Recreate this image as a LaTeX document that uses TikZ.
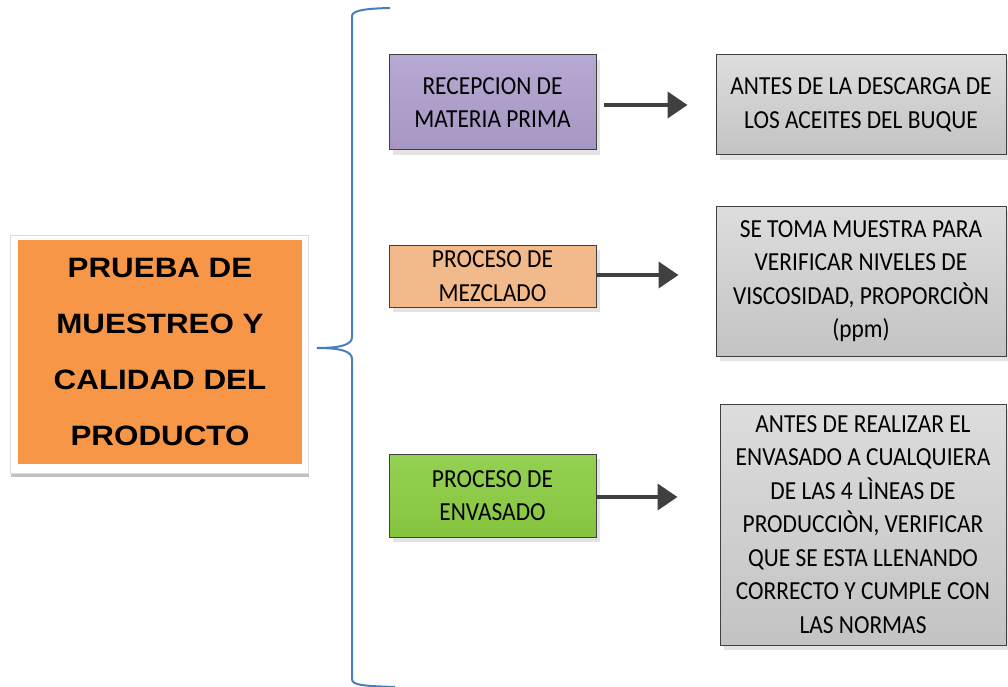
\documentclass[tikz,border=0pt]{standalone}
\usepackage{fontspec}
\setmainfont{Carlito}[FakeStretch=0.9]
\newfontfamily\titlefont{Liberation Sans}[FakeStretch=1.12]
\usetikzlibrary{arrows.meta,shadings}
\definecolor{bracecol}{HTML}{4A7EBB}
\definecolor{mainorange}{HTML}{F79646}
\definecolor{boxedge}{HTML}{404040}
\definecolor{shadowcol}{HTML}{E3E3E3}
\tikzset{
  stepbox/.style={draw=boxedge, line width=1pt, align=center, inner sep=0pt,
    font=\fontsize{26}{33.5}\selectfont,
    drop shadow={shadow xshift=4pt, shadow yshift=-5pt, fill=shadowcol, opacity=1}},
  purplebox/.style={stepbox, top color=HTML-B6A9D2, bottom color=HTML-A796C3},
  lorangebox/.style={stepbox, fill=HTML-F2B98B},
  greenbox/.style={stepbox, top color=HTML-95D152, bottom color=HTML-85C43F},
  graybox/.style={stepbox, top color=HTML-DDDDDD, bottom color=HTML-C3C3C3},
  arr/.style={draw=HTML-404040, line width=4pt, -{Triangle[length=20pt,width=26pt]}},
}
\colorlet{HTML-B6A9D2}{white}
\definecolor{HTML-B6A9D2}{HTML}{B6A9D2}
\definecolor{HTML-A796C3}{HTML}{A796C3}
\definecolor{HTML-F2B98B}{HTML}{F2B98B}
\definecolor{HTML-95D152}{HTML}{95D152}
\definecolor{HTML-85C43F}{HTML}{85C43F}
\definecolor{HTML-DDDDDD}{HTML}{DDDDDD}
\definecolor{HTML-C3C3C3}{HTML}{C3C3C3}
\definecolor{HTML-404040}{HTML}{404040}
\usetikzlibrary{shadows}
\begin{document}
\begin{tikzpicture}[x=1pt,y=-1pt]
\useasboundingbox (0,0) rectangle (1008,687);
\fill[white] (0,0) rectangle (1008,687);
% main box
\fill[HTML-DDDDDD!70!gray] (11,472) rectangle (309,476.5);
\node[draw=HTML-DDDDDD, fill=white, minimum width=298pt, minimum height=238pt, inner sep=0pt] (mainframe) at (159.5,354) {};
\node[fill=mainorange, minimum width=284pt, minimum height=224pt, inner sep=0pt, align=center,
  font=\titlefont\bfseries\fontsize{28}{55.7}\selectfont] (main) at (160,352)
  {PRUEBA DE\\MUESTREO Y\\CALIDAD DEL\\PRODUCTO};
% brace
\draw[bracecol, line width=2pt]
  (390,8) .. controls (368,8.5) and (352,10) .. (352,16) -- (352,337)
  .. controls (352,345) and (340,348) .. (317,348)
  .. controls (340,348) and (352,351) .. (352,359) -- (352,679)
  .. controls (352,685) and (362,686) .. (395,687);
% left column boxes
\node[purplebox, minimum width=207pt, minimum height=95pt] (p1) at (492.5,102.5) {RECEPCION DE\\MATERIA PRIMA};
\node[lorangebox, minimum width=207pt, minimum height=62pt] (p2) at (492.5,276) {PROCESO DE\\MEZCLADO};
\node[greenbox, minimum width=207pt, minimum height=83pt] (p3) at (492.5,495.5) {PROCESO DE\\ENVASADO};
% right column boxes
\node[graybox, minimum width=290pt, minimum height=100pt] (g1) at (861,105) {ANTES DE LA DESCARGA DE\\LOS ACEITES DEL BUQUE};
\node[graybox, minimum width=290pt, minimum height=150pt] (g2) at (861,281) {SE TOMA MUESTRA PARA\\VERIFICAR NIVELES DE\\VISCOSIDAD, PROPORCIÒN\\(ppm)};
\node[graybox, minimum width=286pt, minimum height=241pt] (g3) at (863,524.5) {ANTES DE REALIZAR EL\\ENVASADO A CUALQUIERA\\DE LAS 4 LÌNEAS DE\\PRODUCCIÒN, VERIFICAR\\QUE SE ESTA LLENANDO\\CORRECTO Y CUMPLE CON\\LAS NORMAS};
% arrows
\draw[arr, shorten <=7pt, shorten >=28pt] (p1.east |- 0,105) -- (g1.west |- 0,105);
\draw[arr, shorten >=37pt] (p2.east |- 0,275) -- (g2.west |- 0,275);
\draw[arr, shorten >=42pt] (p3.east |- 0,497) -- (g3.west |- 0,497);
\end{tikzpicture}
\end{document}
